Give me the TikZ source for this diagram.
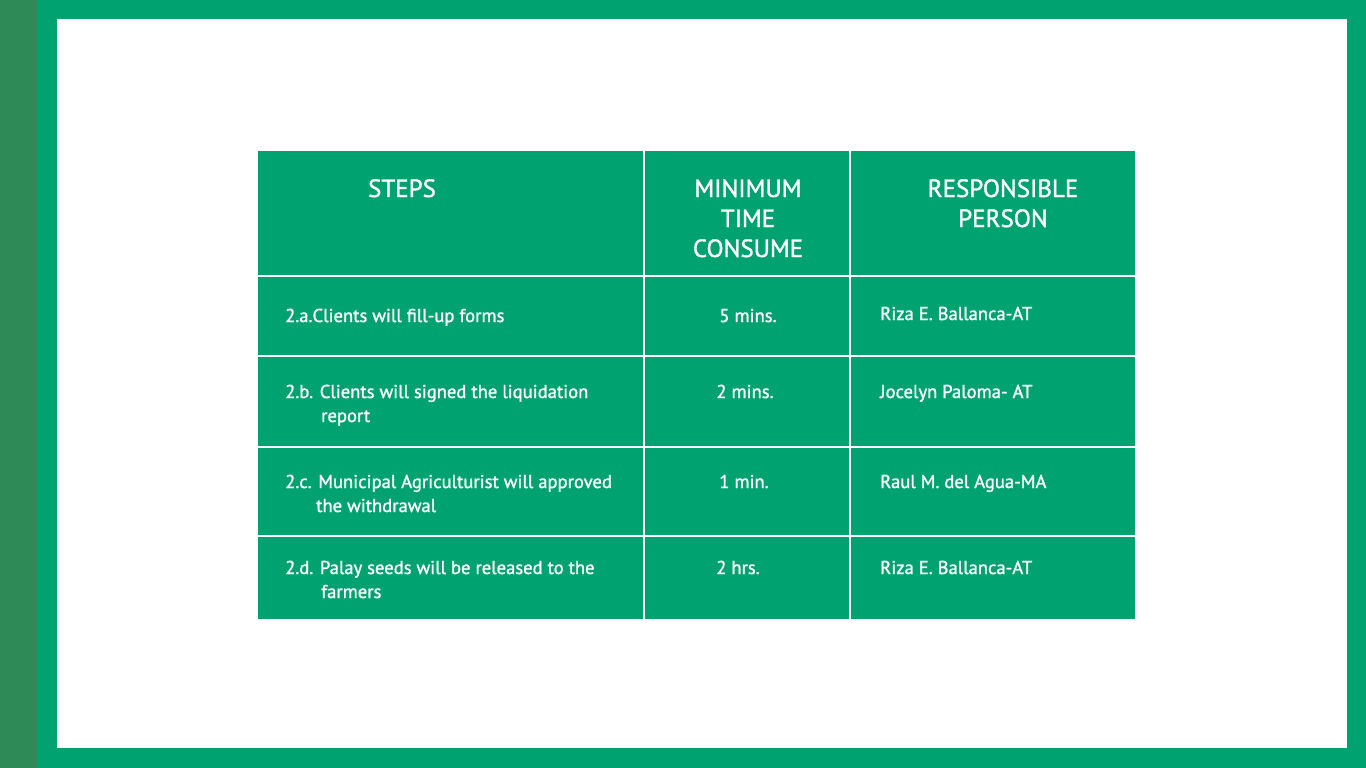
\documentclass[tikz,border=0pt]{standalone}
\usepackage{fontspec}
\setmainfont[FakeBold=1.3]{PT Sans}
\definecolor{framegreen}{HTML}{00A36F}
\definecolor{stripgreen}{HTML}{2E8B57}
\begin{document}
\begin{tikzpicture}[x=1pt,y=-1pt,
  hdr/.style={text=white, font=\fontsize{25}{30}\selectfont, inner sep=0pt, align=center, anchor=base},
  cell/.style={text=white, font=\fontsize{18.6}{24}\selectfont, inner sep=0pt, align=left, anchor=base west},
  num/.style={text=white, font=\fontsize{18.6}{24}\selectfont, inner sep=0pt, anchor=base},
  rule/.style={draw=white, line width=2pt}]
\useasboundingbox (0,0) rectangle (1366,768);
% frame
\fill[framegreen] (0,0) rectangle (1366,768);
\fill[stripgreen] (0,0) rectangle (37,768);
\fill[white] (57,19) rectangle (1347,748);
% table
\fill[framegreen] (258,151) rectangle (1135,619);
\coordinate (c1t) at (644,151); \coordinate (c1b) at (644,619);
\coordinate (c2t) at (850,151); \coordinate (c2b) at (850,619);
\coordinate (r1l) at (258,276); \coordinate (r1r) at (1135,276);
\coordinate (r2l) at (258,356); \coordinate (r2r) at (1135,356);
\coordinate (r3l) at (258,447); \coordinate (r3r) at (1135,447);
\coordinate (r4l) at (258,536); \coordinate (r4r) at (1135,536);
\draw[rule] (c1t) -- (c1b);
\draw[rule] (c2t) -- (c2b);
\draw[rule] (r1l) -- (r1r);
\draw[rule] (r2l) -- (r2r);
\draw[rule] (r3l) -- (r3r);
\draw[rule] (r4l) -- (r4r);
% header
\node[hdr] (hsteps) at (402,197) {STEPS};
\node[hdr] (htime) at (748,257) {MINIMUM\\TIME\\CONSUME};
\node[hdr] (hresp) at (1003,227) {RESPONSIBLE\\PERSON};
% rows
\node[cell] (s1) at (285,322) {2.a.Clients will fill-up forms};
\node[num] (t1) at (748,322) {5 mins.};
\node[cell] (p1) at (880,320) {Riza E. Ballanca-AT};
\node[cell] (s2) at (285,422) {2.b. Clients will signed the liquidation\\\hspace*{36pt}report};
\node[num] (t2) at (745,398) {2 mins.};
\node[cell] (p2) at (880,398) {Jocelyn Paloma- AT};
\node[cell] (s3) at (285,512) {2.c. Municipal Agriculturist will approved\\\hspace*{31pt}the withdrawal};
\node[num] (t3) at (744,488) {1 min.};
\node[cell] (p3) at (880,488) {Raul M. del Agua-MA};
\node[cell] (s4) at (285,598) {2.d. Palay seeds will be released to the\\\hspace*{36pt}farmers};
\node[num] (t4) at (738,574) {2 hrs.};
\node[cell] (p4) at (880,574) {Riza E. Ballanca-AT};
\end{tikzpicture}
\end{document}
